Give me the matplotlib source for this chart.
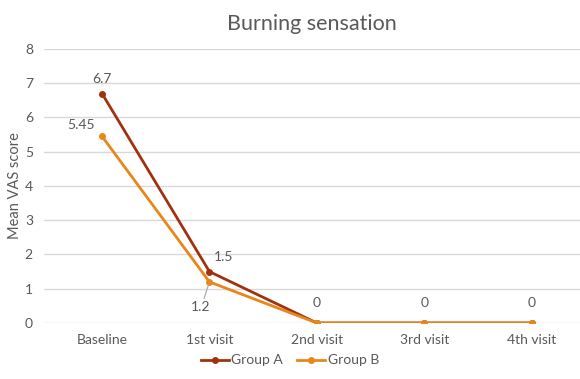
import matplotlib.pyplot as plt
import numpy as np

# data
visits = ['Baseline', '1st visit', '2nd visit', '3rd visit', '4th visit']
group_a = [6.7, 1.5, 0, 0, 0]
group_b = [5.45, 1.2, 0, 0, 0]

col_a = '#A0320F'
col_b = '#E8861A'
txt = '#595959'

plt.rcParams['font.family'] = ['Lato', 'DejaVu Sans']

fig = plt.figure(figsize=(5.8, 3.79), dpi=100)
ax = fig.add_axes([0.0759, 0.1478, 0.9241, 0.7229])

x = np.arange(len(visits))
ax.plot(x, group_a, color=col_a, lw=2, marker='o', ms=4, label='Group A', zorder=3)
ax.plot(x, group_b, color=col_b, lw=2, marker='o', ms=4, label='Group B', zorder=3)

ax.set_ylim(0, 8)
ax.set_xlim(-0.54, 4.45)
ax.set_yticks(range(0, 9))
ax.set_xticks(x)
ax.set_xticklabels(visits)
ax.grid(axis='y', color='#D9D9D9', lw=1)
ax.set_axisbelow(True)
for s in ax.spines.values():
    s.set_visible(False)
ax.tick_params(length=0, colors=txt, labelsize=10, pad=8)
ax.set_ylabel('Mean VAS score', color=txt, fontsize=10.5, labelpad=2)
ax.set_title('Burning sensation', color=txt, fontsize=15.5, pad=14)

# data labels
lbl = dict(color=txt, fontsize=10)
ax.annotate('6.7', (0, 6.7), xytext=(0, 6), textcoords='offset points', ha='center', va='bottom', **lbl)
ax.annotate('5.45', (0, 5.45), xytext=(-5, 4), textcoords='offset points', ha='right', va='bottom', **lbl)
ax.annotate('1.5', (1, 1.5), xytext=(3, 6), textcoords='offset points', ha='left', va='bottom', **lbl)
ax.annotate('1.2', (1, 1.2), xytext=(-6, -14), textcoords='offset points', ha='center', va='top',
            arrowprops=dict(arrowstyle='-', color='#A6A6A6', lw=0.8, shrinkA=0, shrinkB=2), **lbl)
for i in range(2, 5):
    ax.annotate(str(group_a[i]), (i, 0), xytext=(0, 10), textcoords='offset points', ha='center', va='bottom', **lbl)

fig.legend(loc='lower center', bbox_to_anchor=(0.5, 0.0), ncol=2, frameon=False,
           fontsize=10, labelcolor=txt, handlelength=2, columnspacing=1, handletextpad=0.2)

fig.savefig('out.png', dpi=100)
